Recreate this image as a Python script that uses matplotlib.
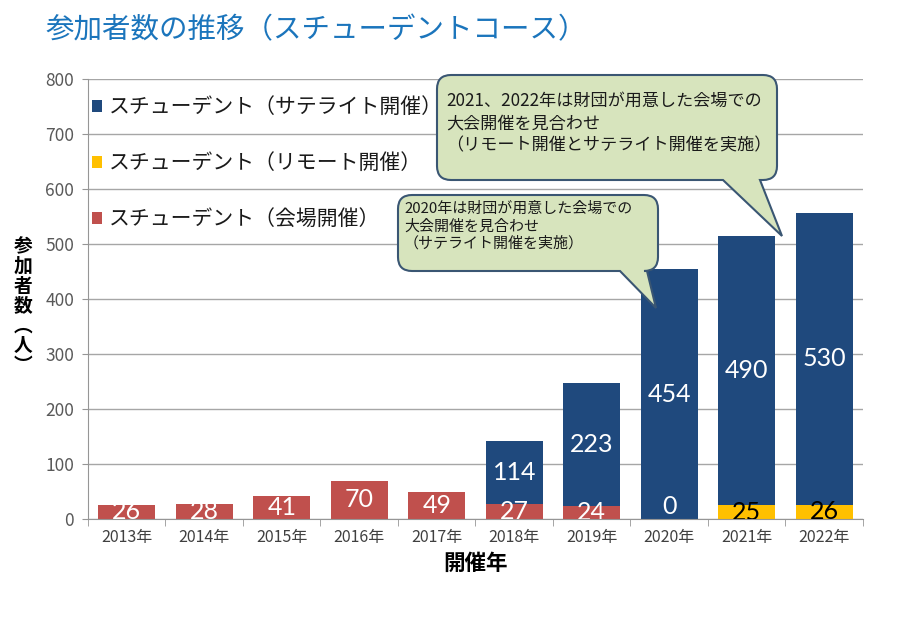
import numpy as np
import matplotlib
matplotlib.use("Agg")
import matplotlib.pyplot as plt
from matplotlib.path import Path
from matplotlib.patches import PathPatch

plt.rcParams['font.family'] = ['Noto Sans CJK JP', 'DejaVu Sans']

# data
years = ['2013年', '2014年', '2015年', '2016年', '2017年',
         '2018年', '2019年', '2020年', '2021年', '2022年']
venue = [26, 28, 41, 70, 49, 27, 24, 0, np.nan, np.nan]
remote = [np.nan] * 8 + [25, 26]
satellite = [np.nan] * 5 + [114, 223, 454, 490, 530]

lbl_satellite = 'スチューデント（サテライト開催）'
lbl_remote = 'スチューデント（リモート開催）'
lbl_venue = 'スチューデント（会場開催）'

note_2021 = '2021、2022年は財団が用意した会場での\n大会開催を見合わせ\n（リモート開催とサテライト開催を実施）'
note_2020 = '2020年は財団が用意した会場での\n大会開催を見合わせ\n（サテライト開催を実施）'

c_blue = '#1F497D'
c_yellow = '#FFC000'
c_red = '#C0504D'

W, H = 912, 625
fig = plt.figure(figsize=(W / 100, H / 100), dpi=100)
ax = fig.add_axes([88 / W, 1 - 519 / H, (863 - 88) / W, (519 - 79) / H])

x = np.arange(len(years))
v = np.nan_to_num(np.array(venue, dtype=float))
r = np.nan_to_num(np.array(remote, dtype=float))
s = np.array(satellite, dtype=float)

bw = 0.74
ax.bar(x, v, bw, color=c_red, label=lbl_venue, zorder=2)
ax.bar(x, r, bw, bottom=v, color=c_yellow, label=lbl_remote, zorder=2)
ax.bar(x, np.nan_to_num(s), bw, bottom=v + r, color=c_blue, label=lbl_satellite, zorder=2)


def put_labels(vals, bottoms, color):
    for xi, val, b in zip(x, vals, bottoms):
        if np.isnan(val):
            continue
        yy = b + val / 2 if val > 0 else 22
        ax.text(xi, yy, f'{int(val)}', ha='center', va='center', color=color,
                fontsize=18, family=['Lato', 'DejaVu Sans'], clip_on=True, zorder=3)


put_labels(np.array(venue, dtype=float), np.zeros(len(x)), 'white')
put_labels(np.array(remote, dtype=float), v, 'black')
put_labels(s, v + r, 'white')

ax.set_ylim(0, 800)
ax.set_xlim(-0.5, len(years) - 0.5)
ax.set_yticks(range(0, 801, 100))
ax.yaxis.grid(True, color='#A6A6A6', linewidth=1.0, zorder=0)
ax.set_axisbelow(True)
for sp in ['top', 'right']:
    ax.spines[sp].set_visible(False)
for sp in ['left', 'bottom']:
    ax.spines[sp].set_color('#969696')
ax.set_xticks(x)
ax.set_xticklabels(years)
ax.set_xticks(np.arange(-0.5, len(years), 1.0), minor=True)
ax.tick_params(axis='x', which='major', length=0, labelsize=11.5, colors='#404040', pad=7)
ax.tick_params(axis='x', which='minor', length=5, color='#969696')
ax.tick_params(axis='y', length=4, color='#969696', labelsize=12.5, labelcolor='#595959', pad=6)

ax.set_xlabel('開催年', fontsize=15.5, fontweight='bold', labelpad=5)
fig.text(23 / W, 1 - 306 / H, '参\n加\n者\n数\n︵\n人\n︶', ha='center', va='center',
         fontsize=13.5, fontweight='bold', linespacing=1.05)

fig.text(45 / W, 1 - 30 / H, '参加者数の推移（スチューデントコース）', ha='left', va='center',
         fontsize=20.5, color='#1B75BC')

handles, labels = ax.get_legend_handles_labels()
order = [2, 1, 0]
leg = ax.legend([handles[i] for i in order], [labels[i] for i in order],
                loc='upper left', bbox_to_anchor=(92 / W, 1 - 96 / H),
                bbox_transform=fig.transFigure, frameon=False, fontsize=15,
                handlelength=0.5, handleheight=0.5, handletextpad=0.3,
                labelspacing=1.64, borderpad=0, borderaxespad=0)
for t in leg.get_texts():
    t.set_color('#1a1a1a')


def callout(x0, y0, x1, y1, bx0, bx1, tip, rad=14):
    pts = [
        (x0 + rad, y0), (x1 - rad, y0), (x1, y0), (x1, y0 + rad),
        (x1, y1 - rad), (x1, y1), (x1 - rad, y1),
        (bx1, y1), tip, (bx0, y1),
        (x0 + rad, y1), (x0, y1), (x0, y1 - rad),
        (x0, y0 + rad), (x0, y0), (x0 + rad, y0), (x0 + rad, y0),
    ]
    codes = [Path.MOVETO, Path.LINETO, Path.CURVE3, Path.CURVE3,
             Path.LINETO, Path.CURVE3, Path.CURVE3,
             Path.LINETO, Path.LINETO, Path.LINETO,
             Path.LINETO, Path.CURVE3, Path.CURVE3,
             Path.LINETO, Path.CURVE3, Path.CURVE3, Path.CLOSEPOLY]
    verts = [(px / W, 1 - py / H) for px, py in pts]
    patch = PathPatch(Path(verts, codes), transform=fig.transFigure,
                      facecolor='#D7E4BD', edgecolor='#3A5673', linewidth=1.5, zorder=5)
    fig.add_artist(patch)


callout(437, 75, 777, 180, 723, 760, (782, 236))
fig.text(446 / W, 1 - 92 / H, note_2021, ha='left', va='top', fontsize=12.3,
         color='#1a1a1a', linespacing=1.3, zorder=6)

callout(398, 195, 658, 271, 620, 647, (656, 308))
fig.text(404 / W, 1 - 202 / H, note_2020, ha='left', va='top', fontsize=10.8,
         color='#1a1a1a', linespacing=1.25, zorder=6)

fig.savefig('out.png', dpi=100)
